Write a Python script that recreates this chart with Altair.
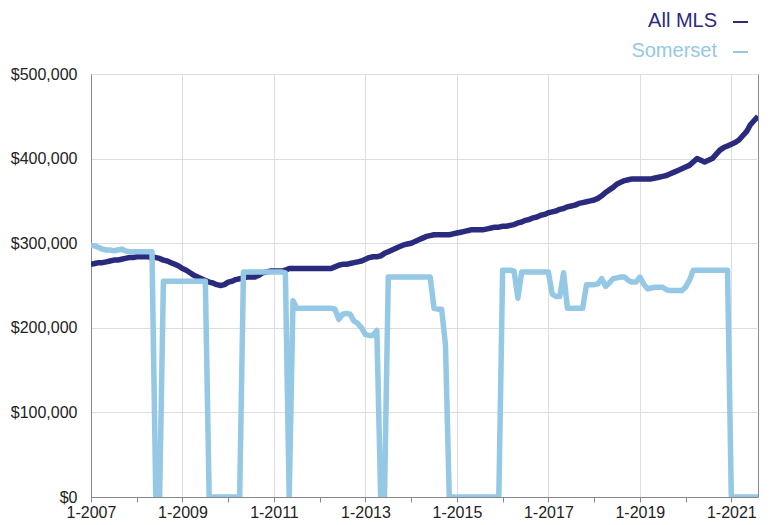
import altair as alt
import pandas as pd

series_names = ["All MLS", "Somerset"]
series_colors = ["#2a2a7e", "#94c8e4"]

start_year = 2007
end_month_index = 175  # 2021-08

# Monthly values in $ thousands, Jan 2007 .. Aug 2021
all_mls = [
    275, 276, 277, 277, 278, 279, 280, 280, 281, 282, 283, 283,  # 2007
    284, 284, 284, 284, 283, 283, 282, 280, 279, 277, 275, 273,  # 2008
    270, 268, 265, 262, 260, 258, 256, 254, 253, 251, 250, 251,  # 2009
    254, 255, 257, 258, 259, 260, 260, 260, 262, 265, 266, 267,  # 2010
    267, 267, 267, 268, 270, 270, 270, 270, 270, 270, 270, 270,  # 2011
    270, 270, 270, 270, 272, 274, 275, 275, 276, 277, 278, 279,  # 2012
    281, 283, 284, 284, 285, 288, 290, 292, 294, 296, 298, 299,  # 2013
    300, 302, 304, 306, 308, 309, 310, 310, 310, 310, 310, 311,  # 2014
    312, 313, 314, 315, 316, 316, 316, 316, 317, 318, 319, 319,  # 2015
    320, 320, 321, 322, 324, 325, 327, 328, 330, 331, 333, 334,  # 2016
    336, 337, 338, 340, 341, 343, 344, 345, 347, 348, 349, 350,  # 2017
    351, 353, 356, 360, 363, 366, 370, 372, 374, 375, 376, 376,  # 2018
    376, 376, 376, 376, 377, 378, 379, 380, 382, 384, 386, 388,  # 2019
    390, 392, 396, 400, 398, 396, 398, 400, 405, 410, 413, 415,  # 2020
    417, 419, 422, 427, 432, 440, 445, 450,                      # 2021
]

somerset = [
    297, 297, 295, 293, 292, 292, 291, 292, 293, 291, 290, 290,  # 2007
    290, 290, 290, 290, 290, 0, 0, 255, 255, 255, 255, 255,      # 2008
    255, 255, 255, 255, 255, 255, 255, 0, 0, 0, 0, 0,            # 2009
    0, 0, 0, 0, 266, 266, 266, 266, 266, 266, 266, 266,          # 2010
    266, 266, 266, 265, 0, 232, 223, 223, 223, 223, 223, 223,    # 2011
    223, 223, 223, 223, 222, 210, 216, 217, 216, 208, 205, 200,  # 2012
    192, 191, 191, 197, 0, 0, 260, 260, 260, 260, 260, 260,      # 2013
    260, 260, 260, 260, 260, 260, 223, 222, 222, 180, 0, 0,      # 2014
    0, 0, 0, 0, 0, 0, 0, 0, 0, 0, 0, 0,                          # 2015
    268, 268, 268, 267, 235, 266, 266, 266, 266, 266, 266, 266,  # 2016
    266, 240, 237, 237, 265, 223, 223, 223, 223, 223, 251, 251,  # 2017
    251, 252, 258, 249, 253, 258, 259, 260, 260, 256, 254, 254,  # 2018
    260, 252, 246, 247, 248, 248, 248, 245, 244, 244, 244, 244,  # 2019
    248, 256, 268, 268, 268, 268, 268, 268, 268, 268, 268, 268,  # 2020
    0, 0, 0, 0, 0, 0, 0, 0,                                      # 2021
]

y_ticks = [0, 100000, 200000, 300000, 400000, 500000]
x_ticks = list(range(0, end_month_index + 1, 12))

months = list(range(len(all_mls)))
df = pd.DataFrame({
    "m": months + months,
    "series": [series_names[0]] * len(all_mls) + [series_names[1]] * len(somerset),
    "value": [v * 1000 for v in all_mls] + [v * 1000 for v in somerset],
})

FONT = "Liberation Sans"

x_label_expr = "datum.value % 24 == 0 ? '1-' + (" + str(start_year) + " + datum.value / 12) : ''"

x_enc = alt.X(
    "m:Q",
    scale=alt.Scale(domain=[0, end_month_index], nice=False, zero=False),
    axis=alt.Axis(
        title=None,
        values=x_ticks,
        labelExpr=x_label_expr,
        labelFont=FONT, labelFontSize=16, labelColor="#222222",
        labelPadding=2, labelFlush=False, tickSize=5, tickColor="#888888",
        domainColor="#888888",
        gridColor={"condition": {"test": "datum.value % 24 == 0", "value": "#dddddd"},
                   "value": "transparent"},
        labelOverlap=False,
    ),
)
y_enc = alt.Y(
    "value:Q",
    scale=alt.Scale(domain=[0, 500000], nice=False),
    axis=alt.Axis(
        title=None, values=y_ticks, format="$,.0f",
        labelFont=FONT, labelFontSize=16, labelColor="#222222",
        labelPadding=14, ticks=False, domainColor="#888888", gridColor="#dddddd",
    ),
)

color_scale = alt.Scale(domain=series_names, range=series_colors)

layers = []
for name in series_names:
    layers.append(
        alt.Chart(df).transform_filter(alt.datum.series == name)
        .mark_line(strokeWidth=5.5, strokeJoin="round", strokeCap="butt", clip=True)
        .encode(x=x_enc, y=y_enc,
                color=alt.Color("series:N", scale=color_scale, legend=None))
    )

legend_y = [-47, -17]
for i, name in enumerate(series_names):
    ldf = pd.DataFrame({"series": [name]})
    layers.append(
        alt.Chart(ldf).mark_text(align="right", baseline="alphabetic",
                                 font=FONT, fontSize=20)
        .encode(x=alt.value(626), y=alt.value(legend_y[i]), text="series:N",
                color=alt.Color("series:N", scale=color_scale, legend=None))
    )
    layers.append(
        alt.Chart(ldf).mark_rule(strokeWidth=2)
        .encode(x=alt.value(642), x2=alt.value(657), y=alt.value(legend_y[i] - 5),
                color=alt.Color("series:N", scale=color_scale, legend=None))
    )

chart = alt.layer(*layers).properties(
    width=667, height=423,
    autosize=alt.AutoSizeParams(type="none"),
    padding={"left": 83, "top": 66, "right": 4, "bottom": 26},
    background="white",
).configure_view(stroke="#888888", strokeWidth=1)

chart.save("out.html", embed_options={"renderer": "svg", "actions": False})
